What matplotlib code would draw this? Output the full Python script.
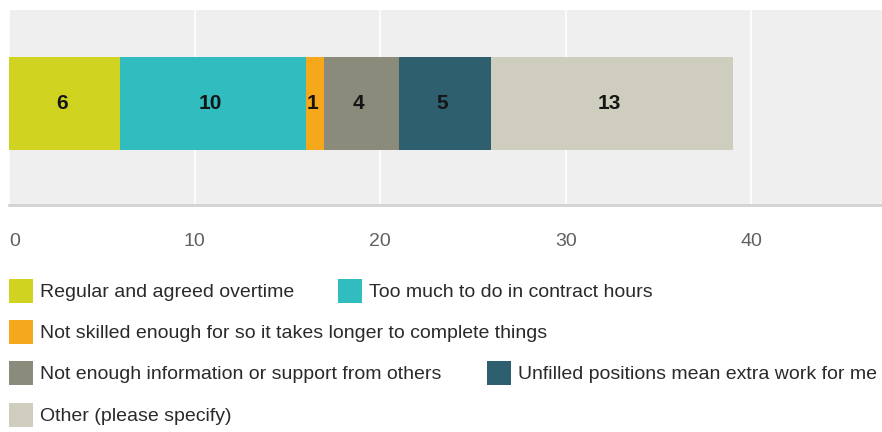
import matplotlib
matplotlib.use("Agg")
import matplotlib.pyplot as plt
from matplotlib.patches import Rectangle

# Survey responses: reasons for working extra hours
categories = [
    "Regular and agreed overtime",
    "Too much to do in contract hours",
    "Not skilled enough for so it takes longer to complete things",
    "Not enough information or support from others",
    "Unfilled positions mean extra work for me",
    "Other (please specify)",
]
counts = [6, 10, 1, 4, 5, 13]
colors = ["#d1d321", "#31bcbf", "#f6a81d", "#8a8b7b", "#2e5f6f", "#cfcdbe"]
xticks = [0, 10, 20, 30, 40]

plt.rcParams["font.family"] = ["Liberation Sans", "DejaVu Sans"]

W, H = 882, 432
fig = plt.figure(figsize=(W / 100, H / 100), dpi=100)
fig.patch.set_facecolor("white")

ax = fig.add_axes([9 / W, (H - 205) / H, 873 / W, 195 / H])
ax.set_facecolor("#efefef")

left = 0
for val, col in zip(counts, colors):
    ax.barh(0, val, left=left, height=0.477, color=col, edgecolor="none", zorder=3)
    ax.text(left + val / 2 - 0.15, 0, str(val), ha="center", va="center",
            fontsize=15, fontweight="bold", color="#151515", zorder=4)
    left += val

ax.set_xlim(0, 47.05)
ax.set_ylim(-0.52, 0.48)
ax.set_yticks([])
ax.set_xticks(xticks)
ax.set_xticklabels([str(t) for t in xticks], fontsize=14, color="#606060")
ax.tick_params(axis="x", length=0, pad=20)
ax.xaxis.grid(True, color="white", linewidth=1.2, zorder=1)
for s in ["top", "right", "left"]:
    ax.spines[s].set_visible(False)
ax.spines["bottom"].set_color("#d2d2d2")
ax.spines["bottom"].set_linewidth(2)
ax.get_xticklabels()[0].set_horizontalalignment("left")

# Flowing legend: (category index, square x, row y) in pixels
legend_layout = [(0, 9, 291), (1, 338, 291), (2, 9, 332), (3, 9, 373), (4, 487, 373), (5, 9, 415)]
for idx, x0, yc in legend_layout:
    sq = 24
    fig.patches.append(Rectangle((x0 / W, (H - yc - sq / 2) / H), sq / W, sq / H,
                                 transform=fig.transFigure, facecolor=colors[idx],
                                 edgecolor="none"))
    fig.text((x0 + 31) / W, (H - yc - 1.5) / H, categories[idx], ha="left", va="center",
             fontsize=14, color="#2a2a2a")

fig.savefig("out.png", dpi=100)
